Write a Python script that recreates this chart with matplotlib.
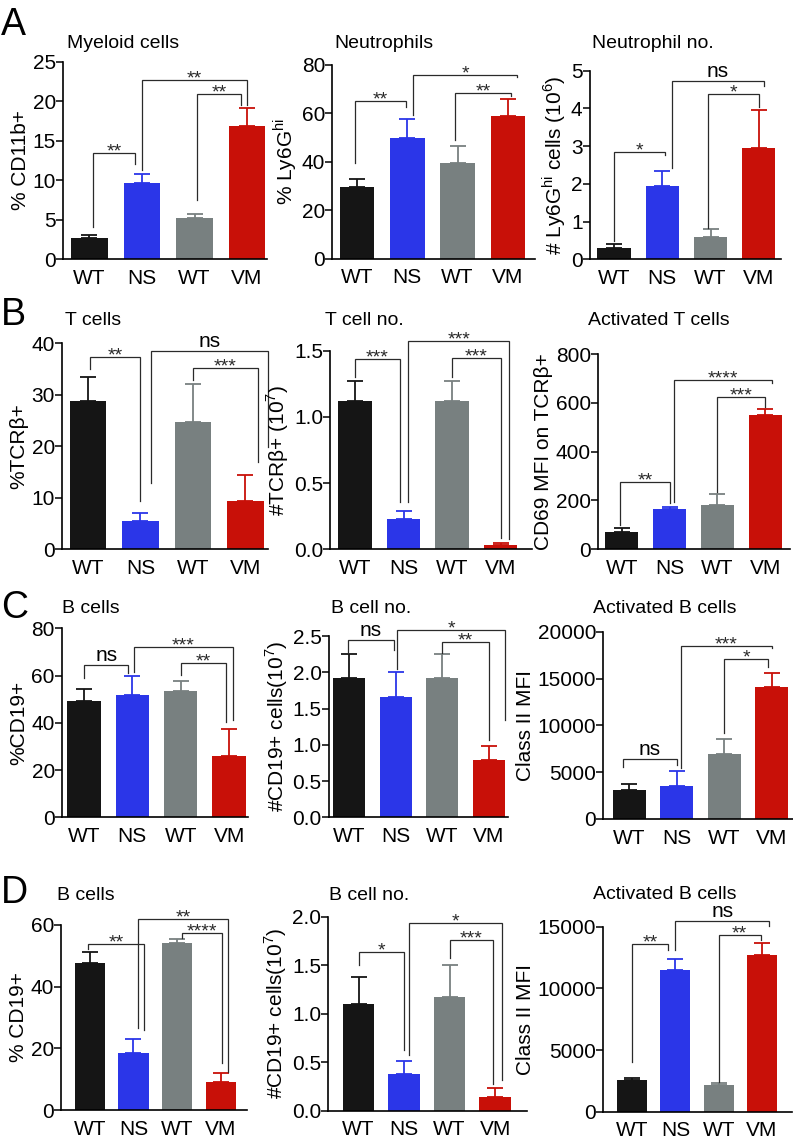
import numpy as np
import matplotlib.pyplot as plt

groups = ["WT", "NS", "WT", "VM"]
colors = ["#151515", "#2b36e8", "#788080", "#c81008"]

# significance brackets: (bar i, bar j, bracket top, left leg end, right leg end, label)

# ---- row A ----
a1_mean = [2.66, 9.7, 5.2, 16.9]
a1_err = [0.45, 1.1, 0.5, 2.3]
a1_sig = [(0, 1, 13.5, 4.1, 12.1, "**"), (1, 3, 22.7, 11.3, 19.5, "**"), (2, 3, 20.9, 7.5, 19.5, "**")]

a2_mean = [29.5, 50.0, 39.5, 59.0]
a2_err = [3.5, 7.5, 7.0, 7.0]
a2_sig = [(0, 1, 65.3, 39.5, 62.8, "**"), (1, 3, 75.9, 59.4, 75.0, "*"), (2, 3, 68.6, 49.1, 67.0, "**")]

a3_mean = [0.31, 1.95, 0.6, 2.95]
a3_err = [0.1, 0.4, 0.2, 1.0]
a3_sig = [(0, 1, 2.85, 0.48, 2.76, "*"), (1, 3, 4.72, 2.41, 4.6, "ns"), (2, 3, 4.37, 0.83, 4.03, "*")]

# ---- row B ----
b1_mean = [28.7, 5.4, 24.8, 9.4]
b1_err = [4.8, 1.7, 7.2, 5.0]
b1_sig = [(0, 1, 37.4, 35.1, 9.3, "**"), (1, 3, 38.6, 12.8, 19.9, "ns"), (2, 3, 35.3, 32.9, 17.0, "***")]

b2_mean = [1.12, 0.227, 1.12, 0.03]
b2_err = [0.154, 0.065, 0.154, 0.018]
b2_sig = [(0, 1, 1.437, 1.30, 0.36, "***"), (1, 3, 1.573, 0.36, 0.078, "***"), (2, 3, 1.447, 1.30, 0.083, "***")]

b3_mean = [72, 164, 182, 550]
b3_err = [14, 11, 45, 23]
b3_sig = [(0, 1, 277, 100, 188, "**"), (1, 3, 694, 195, 680, "****"), (2, 3, 625, 236, 584, "***")]

# ---- row C ----
c1_mean = [49.2, 51.9, 53.6, 26.0]
c1_err = [5.1, 7.8, 4.2, 11.2]
c1_sig = [(0, 1, 64.5, 58.8, 61.0, "ns"), (1, 3, 72.2, 61.6, 41.2, "***"), (2, 3, 65.4, 60.2, 40.5, "**")]

c2_mean = [1.92, 1.66, 1.92, 0.79]
c2_err = [0.33, 0.34, 0.33, 0.2]
c2_sig = [(0, 1, 2.45, 2.27, 2.31, "ns"), (1, 3, 2.58, 2.05, 1.34, "*"), (2, 3, 2.42, 2.27, 1.07, "**")]

c3_mean = [3100, 3520, 6940, 14130]
c3_err = [600, 1640, 1560, 1420]
c3_sig = [(0, 1, 6370, 5590, 5770, "ns"), (1, 3, 18470, 5410, 18220, "***"), (2, 3, 17050, 9150, 16190, "*")]

# ---- row D ----
d1_mean = [47.6, 18.4, 54.1, 9.2]
d1_err = [3.8, 4.5, 1.3, 2.7]
d1_sig = [(0, 1, 53.7, 52.1, 25.9, "**"), (1, 3, 61.8, 26.5, 12.4, "**"), (2, 3, 57.5, 55.7, 15.1, "****")]

d2_mean = [1.10, 0.375, 1.17, 0.144]
d2_err = [0.275, 0.135, 0.33, 0.086]
d2_sig = [(0, 1, 1.64, 1.5, 0.625, "*"), (1, 3, 1.94, 0.574, 0.316, "*"), (2, 3, 1.76, 1.57, 0.28, "***")]

d3_mean = [2570, 11490, 2160, 12700]
d3_err = [130, 890, 190, 1000]
d3_sig = [(0, 1, 13570, 4050, 13110, "**"), (1, 3, 15460, 13110, 15050, "ns"), (2, 3, 14320, 2430, 13920, "**")]

# horizontal offsets of the bracket legs from the bar centres (fraction of bar spacing)
legs = {
    "a1": [(0.07, -0.13), (0.0, 0.0), (0.05, -0.12)],
    "a2": [(-0.05, -0.03), (0.12, 0.18), (-0.05, 0.06)],
    "a3": [(0.0, 0.05), (0.21, 0.1), (-0.05, 0.0)],
    "b1": [(0.03, 0.0), (0.21, 0.43), (0.0, 0.24)],
    "b2": [(0.0, -0.08), (0.1, 0.17), (0.0, 0.0)],
    "b3": [(-0.04, 0.0), (0.1, 0.14), (0.0, 0.0)],
    "c1": [(0.0, -0.08), (0.03, 0.08), (0.0, -0.06)],
    "c2": [(-0.03, -0.04), (0.03, 0.36), (0.0, 0.0)],
    "c3": [(-0.13, 0.0), (0.09, 0.0), (0.0, -0.08)],
    "d1": [(-0.04, 0.25), (0.1, 0.16), (0.1, 0.02)],
    "d2": [(0.0, 0.0), (0.1, 0.16), (0.0, -0.05)],
    "d3": [(0.0, -0.18), (0.0, 0.16), (0.0, -0.03)],
}

W, H = 793, 1141
FONT = ["Liberation Sans", "DejaVu Sans"]
plt.rcParams["font.family"] = FONT

fig = plt.figure(figsize=(W / 100, H / 100), dpi=100)


def panel(key, rect, pads, mean, err, sig, ymax, step, title, title_xy, ylabel, fmt="{:g}"):
    left, top, right, bottom = rect
    ax = fig.add_axes([left / W, 1 - bottom / H, (right - left) / W, (bottom - top) / H])
    x = np.arange(4)
    ax.bar(x, mean, width=0.69, color=colors, zorder=2)
    for i in range(4):
        ax.errorbar(x[i], mean[i], yerr=[[0], [err[i]]], fmt="none", ecolor=colors[i],
                    elinewidth=1.3, capsize=6, capthick=1.3, zorder=1)
    for (i, j, yt, yl, yr, lab), (dx1, dx2) in zip(sig, legs[key]):
        x1, x2 = i + dx1, j + dx2
        ax.plot([x1, x1, x2, x2], [yl, yt, yt, yr], color="#2a2a2a", lw=0.9,
                clip_on=False, solid_joinstyle="miter")
        if lab == "ns":
            ax.annotate(lab, ((x1 + x2) / 2, yt), xytext=(0, 2.8), textcoords="offset points",
                        ha="center", va="baseline", fontsize=15, annotation_clip=False)
        else:
            ax.annotate(lab, ((x1 + x2) / 2, yt), xytext=(0, -2.5), textcoords="offset points",
                        ha="center", va="baseline", fontsize=14, color="#2a2a2a",
                        annotation_clip=False)
    ax.set_xlim(-pads[0], 3 + pads[1])
    ax.set_ylim(0, ymax)
    ticks = np.arange(0, ymax + step / 2, step)
    ax.set_yticks(ticks)
    ax.set_yticklabels([fmt.format(t) for t in ticks], fontsize=15)
    ax.set_xticks(x)
    ax.set_xticklabels(groups, fontsize=15)
    ax.tick_params(axis="x", length=0, pad=7)
    ax.tick_params(axis="y", length=5, width=1.1, pad=0)
    for s in ["top", "right"]:
        ax.spines[s].set_visible(False)
    for s in ["left", "bottom"]:
        ax.spines[s].set_linewidth(1.2)
    ax.set_ylabel(ylabel, fontsize=15, labelpad=2)
    fig.text(title_xy[0] / W, 1 - title_xy[1] / H, title, fontsize=14, va="baseline")
    return ax


hi = "$^{\\mathregular{hi}}$"

# row A
panel("a1", (62.7, 61.7, 267, 259.3), (0.51, 0.38), a1_mean, a1_err, a1_sig, 25, 5,
      "Myeloid cells", (67, 48), "% CD11b+")
panel("a2", (332, 65, 535, 258.6), (0.5, 0.54), a2_mean, a2_err, a2_sig, 80, 20,
      "Neutrophils", (334.5, 48), "% Ly6G" + hi)
panel("a3", (589.5, 70.7, 781, 259.3), (0.51, 0.46), a3_mean, a3_err, a3_sig, 5, 1,
      "Neutrophil no.", (592.5, 48), "# Ly6G" + hi + " cells (10$^{\\mathregular{6}}$)")

# row B
panel("b1", (61.7, 343.3, 268, 549.3), (0.5, 0.43), b1_mean, b1_err, b1_sig, 40, 10,
      "T cells", (65, 325), "%TCR\u03b2+")
panel("b2", (330, 350.7, 532, 549.3), (0.52, 0.65), b2_mean, b2_err, b2_sig, 1.5, 0.5,
      "T cell no.", (325, 325), "#TCR\u03b2+ (10$^{\\mathregular{7}}$)", fmt="{:.1f}")
panel("b3", (598, 354, 790, 549.3), (0.5, 0.52), b3_mean, b3_err, b3_sig, 800, 200,
      "Activated T cells", (588, 325), "CD69 MFI on TCR\u03b2+")

# row C
panel("c1", (61.7, 628.3, 248, 817.3), (0.46, 0.39), c1_mean, c1_err, c1_sig, 80, 20,
      "B cells", (62, 613), "%CD19+")
panel("c2", (328.6, 636, 507.7, 817.3), (0.44, 0.41), c2_mean, c2_err, c2_sig, 2.5, 0.5,
      "B cell no.", (331, 613), "#CD19+ cells(10$^{\\mathregular{7}}$)", fmt="{:.1f}")
panel("c3", (603.3, 631.7, 793, 819), (0.55, 0.45), c3_mean, c3_err, c3_sig, 20000, 5000,
      "Activated B cells", (593, 613), "Class II MFI")

# row D
panel("d1", (61, 925, 247, 1110), (0.66, 0.6), d1_mean, d1_err, d1_sig, 60, 20,
      "B cells", (57, 900), "% CD19+")
panel("d2", (328, 916.7, 527, 1110.7), (0.67, 0.7), d2_mean, d2_err, d2_sig, 2.0, 0.5,
      "B cell no.", (329, 900), "#CD19+ cells(10$^{\\mathregular{7}}$)", fmt="{:.1f}")
panel("d3", (603, 926.7, 792, 1111.7), (0.67, 0.69), d3_mean, d3_err, d3_sig, 15000, 5000,
      "Activated B cells", (593, 899), "Class II MFI")

for lab, y in [("A", 35), ("B", 325), ("C", 618), ("D", 903)]:
    fig.text(1 / W, 1 - y / H, lab, fontsize=27, va="baseline")

fig.savefig("out.png", dpi=100)
